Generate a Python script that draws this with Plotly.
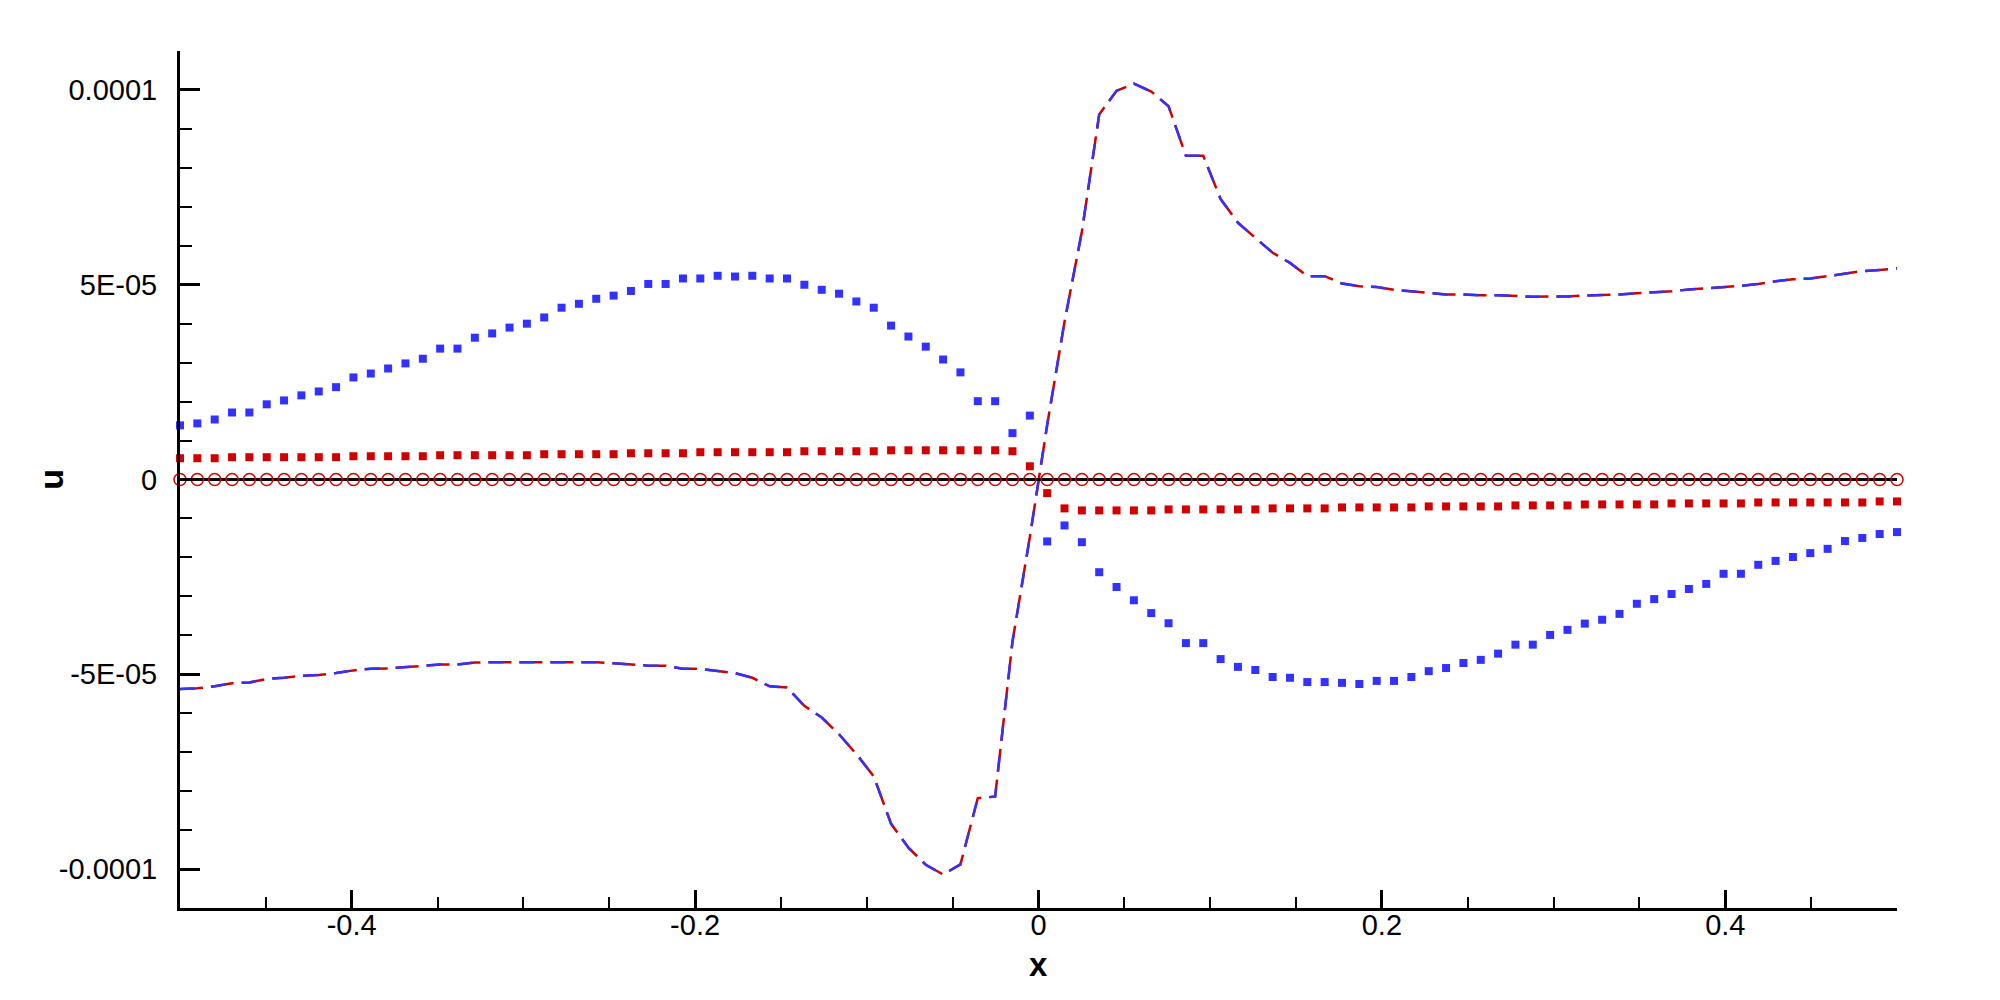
import numpy as np
import plotly.graph_objects as go

BLUE = "#3232FF"
RED = "#D00000"
FONT = "Liberation Sans, Arial, sans-serif"

# 100 evenly spaced stations on [-0.5, 0.5]
x_grid = np.linspace(-0.5, 0.5, 100)

# values below are in units of 1e-5
u_dashed = [
    -5.38, -5.36, -5.31, -5.23, -5.21, -5.12, -5.09, -5.04, -5.02, -4.97,
    -4.90, -4.86, -4.85, -4.82, -4.78, -4.75, -4.75, -4.70, -4.69, -4.69,
    -4.69, -4.68, -4.68, -4.69, -4.69, -4.72, -4.75, -4.78, -4.78, -4.86,
    -4.86, -4.92, -4.97, -5.09, -5.31, -5.34, -5.81, -6.11, -6.54, -7.05,
    -7.62, -8.84, -9.45, -9.89, -10.14, -9.88, -8.18, -8.14, -4.16, -1.48,
    1.40, 4.05, 6.36, 9.37, 9.98, 10.16, 9.96, 9.58, 8.31, 8.31,
    7.20, 6.59, 6.20, 5.82, 5.56, 5.22, 5.22, 5.03, 4.96, 4.94,
    4.87, 4.83, 4.78, 4.75, 4.75, 4.73, 4.73, 4.71, 4.69, 4.70,
    4.70, 4.72, 4.73, 4.75, 4.78, 4.81, 4.83, 4.88, 4.91, 4.95,
    4.97, 5.02, 5.09, 5.14, 5.16, 5.22, 5.29, 5.35, 5.38, 5.42,
]

u_blue_sq = [
    1.39, 1.44, 1.54, 1.72, 1.72, 1.93, 2.03, 2.16, 2.26, 2.37,
    2.62, 2.72, 2.85, 2.98, 3.10, 3.36, 3.36, 3.64, 3.75, 3.90,
    4.00, 4.16, 4.41, 4.51, 4.64, 4.72, 4.84, 5.02, 5.02, 5.16,
    5.16, 5.23, 5.21, 5.23, 5.16, 5.16, 5.00, 4.87, 4.77, 4.57,
    4.41, 3.95, 3.67, 3.41, 3.08, 2.75, 2.01, 2.01, 1.19, 1.64,
    -1.59, -1.18, -1.61, -2.38, -2.76, -3.10, -3.43, -3.69, -4.20, -4.20,
    -4.61, -4.81, -4.89, -5.07, -5.09, -5.20, -5.20, -5.22, -5.25, -5.17,
    -5.17, -5.07, -4.92, -4.84, -4.71, -4.63, -4.47, -4.24, -4.24, -3.99,
    -3.86, -3.70, -3.60, -3.45, -3.19, -3.07, -2.94, -2.81, -2.68, -2.42,
    -2.42, -2.19, -2.09, -1.99, -1.89, -1.78, -1.58, -1.50, -1.40, -1.35,
]

u_red_sq = [
    0.546, 0.546, 0.546, 0.572, 0.572, 0.572, 0.572, 0.572, 0.572, 0.572,
    0.597, 0.597, 0.597, 0.597, 0.597, 0.623, 0.623, 0.623, 0.623, 0.623,
    0.623, 0.649, 0.649, 0.649, 0.649, 0.649, 0.674, 0.674, 0.674, 0.674,
    0.700, 0.700, 0.700, 0.700, 0.700, 0.700, 0.725, 0.725, 0.725, 0.725,
    0.725, 0.750, 0.750, 0.750, 0.750, 0.750, 0.750, 0.750, 0.725, 0.340,
    -0.350, -0.742, -0.794, -0.794, -0.794, -0.794, -0.794, -0.768, -0.768, -0.768,
    -0.768, -0.768, -0.768, -0.742, -0.742, -0.742, -0.742, -0.717, -0.717, -0.717,
    -0.717, -0.717, -0.691, -0.691, -0.691, -0.691, -0.691, -0.666, -0.666, -0.666,
    -0.666, -0.640, -0.640, -0.640, -0.640, -0.640, -0.614, -0.614, -0.614, -0.614,
    -0.614, -0.589, -0.589, -0.589, -0.589, -0.589, -0.589, -0.589, -0.563, -0.563,
]

u_zero = [0.0] * 100

x_ticks = [-0.4, -0.2, 0.0, 0.2, 0.4]
x_ticktext = ["-0.4", "-0.2", "0", "0.2", "0.4"]
y_ticks = [-1e-4, -5e-5, 0.0, 5e-5, 1e-4]
y_ticktext = ["-0.0001", "-5E-05", "0", "5E-05", "0.0001"]

SCALE = 1e-5


def scaled(vals):
    return [v * SCALE for v in vals]


fig = go.Figure()
# two coincident dashed curves: red underneath, blue on top with shorter dashes
fig.add_trace(go.Scatter(
    x=x_grid, y=scaled(u_dashed), mode="lines",
    line=dict(color=RED, width=2.5, dash="23px,8px"),
))
fig.add_trace(go.Scatter(
    x=x_grid, y=scaled(u_dashed), mode="lines",
    line=dict(color=BLUE, width=2.5, dash="15px,16px"),
))
fig.add_trace(go.Scatter(
    x=x_grid, y=scaled(u_red_sq), mode="markers", cliponaxis=False,
    marker=dict(symbol="square", size=8, color=RED, line=dict(width=0)),
))
fig.add_trace(go.Scatter(
    x=x_grid, y=scaled(u_blue_sq), mode="markers", cliponaxis=False,
    marker=dict(symbol="square", size=8, color=BLUE, line=dict(width=0)),
))
fig.add_trace(go.Scatter(
    x=x_grid, y=u_zero, mode="lines+markers", cliponaxis=False,
    line=dict(color="black", width=3),
    marker=dict(symbol="circle-open", size=12, color=RED, line=dict(color=RED, width=1.5)),
))

# page body adds an 8px offset, so the figure is 8px smaller than the window
fig.update_layout(
    width=1992, height=992, autosize=False,
    margin=dict(l=172, r=103, t=43, b=92, autoexpand=False),
    paper_bgcolor="white", plot_bgcolor="white",
    showlegend=False,
    font=dict(family=FONT, color="black", size=29),
    annotations=[
        dict(text="<b>x</b>", xref="paper", yref="paper", x=0.5, y=-0.066,
             showarrow=False, font=dict(size=33, family=FONT), xanchor="center", yanchor="middle"),
        dict(text="<b>u</b>", xref="paper", yref="paper", x=-0.0755, y=0.5, textangle=-90,
             showarrow=False, font=dict(size=34, family=FONT), xanchor="center", yanchor="middle"),
    ],
)
fig.update_xaxes(
    range=[-0.5, 0.5], showgrid=False, zeroline=False, automargin=False,
    showline=True, linecolor="black", linewidth=3,
    tickmode="array", tickvals=x_ticks, ticktext=x_ticktext,
    ticks="inside", ticklen=18, tickwidth=3, tickcolor="black",
    tickfont=dict(size=29, family=FONT), ticklabelstandoff=-11,
    minor=dict(tickmode="array", tickvals=[k * 0.05 for k in range(-9, 10) if k % 4],
               ticks="inside", ticklen=11, tickwidth=1.5, tickcolor="black"),
)
fig.update_yaxes(
    range=[-1.1e-4, 1.1e-4], showgrid=False, zeroline=False, automargin=False,
    showline=True, linecolor="black", linewidth=3,
    tickmode="array", tickvals=y_ticks, ticktext=y_ticktext,
    ticks="inside", ticklen=20, tickwidth=3, tickcolor="black",
    tickfont=dict(size=29, family=FONT), ticklabelstandoff=14,
    minor=dict(tickmode="array", tickvals=[k * 1e-5 for k in range(-11, 12) if k % 5],
               ticks="inside", ticklen=12, tickwidth=1.5, tickcolor="black"),
)

fig.write_html("out.html")
